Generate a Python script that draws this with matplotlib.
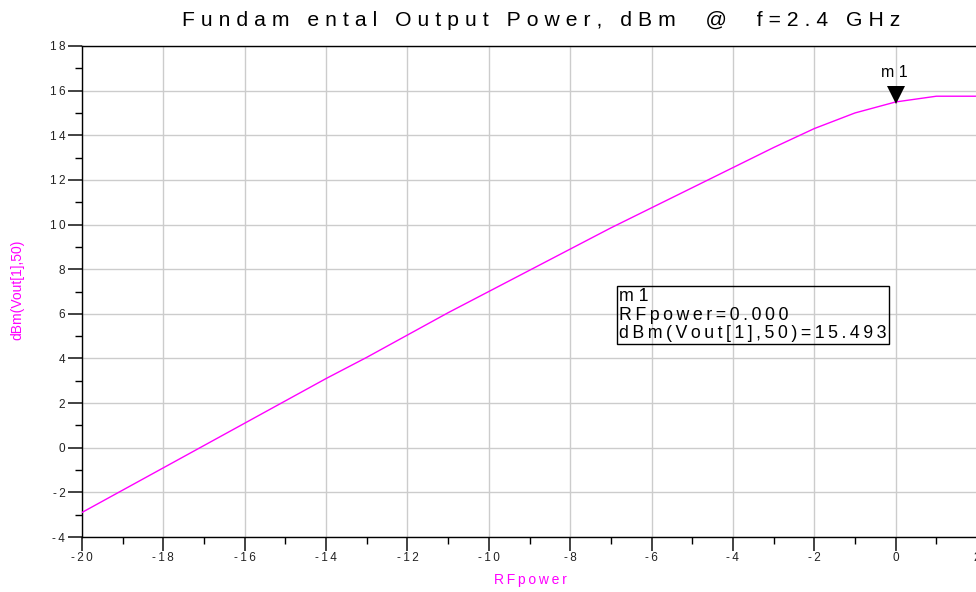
import matplotlib
matplotlib.use("Agg")
import matplotlib.pyplot as plt
from matplotlib.ticker import MultipleLocator, FuncFormatter

rf_power = [-20, -19, -18, -17, -16, -15, -14, -13, -12, -11, -10,
            -9, -8, -7, -6, -5, -4, -3, -2, -1, 0, 1, 2]
dbm_vout = [-2.9, -1.9, -0.9, 0.1, 1.1, 2.1, 3.1, 4.05, 5.05, 6.05, 7.0,
            7.95, 8.9, 9.85, 10.75, 11.65, 12.55, 13.45, 14.3, 15.0, 15.493, 15.75, 15.75]
marker_x = 0.0
marker_y = 15.493

def sp(s, sep="\u2009"):
    return sep.join(list(s))

plt.rcParams['font.family'] = ['Liberation Sans', 'DejaVu Sans']

fig = plt.figure(figsize=(9.76, 5.92), dpi=100)
ax = fig.add_axes([82/976, 1 - 537/592, (977 - 82)/976, (537 - 46)/592])

ax.plot(rf_power, dbm_vout, color='#ff00ff', lw=1.0, zorder=3)
ax.set_xlim(-20, 2)
ax.set_ylim(-4, 18)
ax.xaxis.set_major_locator(MultipleLocator(2))
ax.xaxis.set_minor_locator(MultipleLocator(1))
ax.yaxis.set_major_locator(MultipleLocator(2))
ax.yaxis.set_minor_locator(MultipleLocator(1))
fmt = FuncFormatter(lambda v, p: sp(f"{v:.0f}".replace('\u2212', '-')))
ax.xaxis.set_major_formatter(fmt)
ax.yaxis.set_major_formatter(fmt)
ax.grid(True, which='major', color='#cccccc', lw=1.0)
ax.set_axisbelow(True)
ax.tick_params(which='major', length=10, width=1.2, direction='out', labelsize=8.5, colors='#222222', pad=2)
ax.tick_params(axis='x', which='major', pad=1)
ax.tick_params(which='minor', length=5, width=1.0, direction='out')
for s in ['left', 'bottom', 'top', 'right']:
    ax.spines[s].set_color('black')
    ax.spines[s].set_linewidth(1.0)

fig.text(541/976, 1 - 20/592, sp("Fundam ental Output Power, dBm  @  f=2.4 GHz", "\u2009\u200a"),
         ha='center', va='center', fontsize=15.2, color='black')
fig.text(530/976, 1 - 580/592, sp("RFpower"), ha='center', va='center', fontsize=10, color='#ff00ff')
fig.text(17/976, 1 - 290/592, "dBm(Vout[1],50)", ha='center', va='center', rotation=90,
         fontsize=10, color='#ff00ff')

# marker (triangle tip on the data point)
ax.plot([marker_x], [marker_y + 0.3], marker='v', markersize=13, color='black', zorder=5,
        markeredgewidth=0, linestyle='none')
ax.annotate(sp("m1", " "), (marker_x, marker_y), xytext=(-1, 16), textcoords='offset points',
            ha='center', va='bottom', fontsize=11.5)

box_text = "\n".join([sp("m1", " "), sp("RFpower=0.000"), sp("dBm(Vout[1],50)=15.493")])
fig.text(619/976, 1 - 315/592, box_text, ha='left', va='center', fontsize=12.8, linespacing=1.12,
         bbox=dict(boxstyle='square,pad=0.12', fc='none', ec='black', lw=1.0))

fig.savefig("out.png", dpi=100)
